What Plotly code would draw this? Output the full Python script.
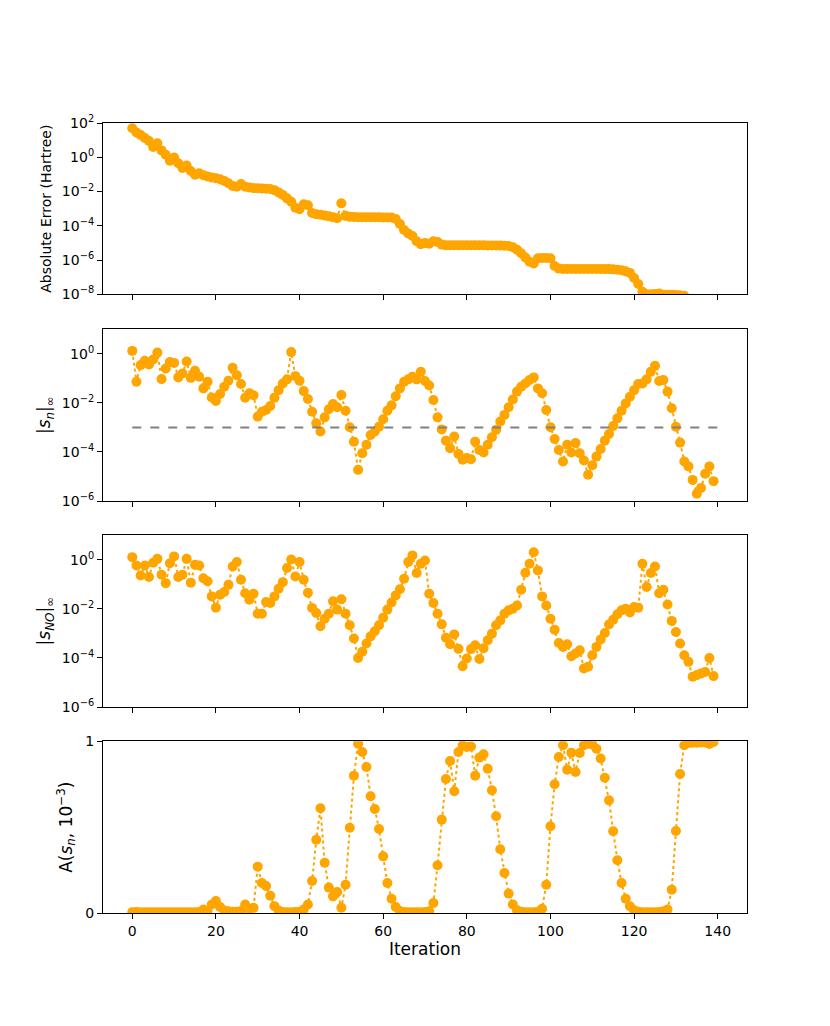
import numpy as np
import plotly.graph_objects as go

iterations = list(range(140))

# Panel 1: absolute error (log10 of Hartree)
abs_err_log10 = [
    1.69, 1.45, 1.30, 1.12, 0.95, 0.60, 0.82, 0.40, 0.15, -0.20,
    -0.02, -0.35, -0.63, -0.48, -0.80, -1.02, -0.93, -1.05, -1.12, -1.18,
    -1.22, -1.28, -1.38, -1.52, -1.68, -1.72, -1.56, -1.72, -1.77, -1.80,
    -1.81, -1.82, -1.84, -1.85, -1.92, -2.05, -2.20, -2.40, -2.60, -2.95,
    -3.03, -2.75, -2.80, -3.25, -3.32, -3.36, -3.40, -3.45, -3.50, -3.56,
    -2.69, -3.42, -3.48, -3.49, -3.50, -3.50, -3.50, -3.50, -3.50, -3.50,
    -3.51, -3.51, -3.52, -3.60, -3.90, -4.25, -4.45, -4.60, -4.90, -5.08,
    -5.00, -5.05, -4.90, -4.95, -5.10, -5.14, -5.14, -5.14, -5.14, -5.14,
    -5.14, -5.14, -5.14, -5.14, -5.14, -5.15, -5.15, -5.15, -5.15, -5.16,
    -5.18, -5.25, -5.40, -5.60, -5.85, -6.10, -6.20, -5.90, -5.88, -5.88,
    -5.90, -6.35, -6.50, -6.52, -6.52, -6.52, -6.52, -6.52, -6.52, -6.52,
    -6.52, -6.52, -6.52, -6.53, -6.53, -6.54, -6.56, -6.60, -6.66, -6.75,
    -7.05, -7.40, -7.85, -8.00, -8.00, -7.98, -7.95, -8.02, -8.03, -8.03,
    -8.04, -8.05, -8.08, -8.40, -8.60, -8.80, -9.00, -9.10, -9.20, -9.30,
]

# Panel 2: |s_n|_inf (log10)
sn_log10 = [
    0.12, -1.14, -0.46, -0.28, -0.43, -0.23, 0.05, -1.03, -0.60, -0.33,
    -0.37, -0.96, -0.80, -0.31, -0.98, -0.69, -0.93, -1.41, -1.14, -1.78,
    -1.92, -1.64, -1.34, -1.10, -0.57, -0.87, -1.23, -1.79, -1.61, -1.69,
    -2.56, -2.36, -2.29, -2.13, -1.79, -1.48, -1.21, -1.04, 0.07, -0.91,
    -1.10, -1.52, -1.84, -2.36, -2.83, -3.17, -2.59, -2.26, -2.05, -2.18,
    -1.68, -2.32, -2.99, -3.58, -4.73, -4.05, -3.71, -3.31, -3.17, -2.97,
    -2.67, -2.32, -2.10, -1.73, -1.41, -1.14, -1.04, -0.93, -1.04, -0.73,
    -1.11, -1.29, -1.88, -2.59, -3.08, -3.54, -3.85, -3.37, -4.08, -4.32,
    -4.25, -4.30, -3.58, -3.92, -4.02, -3.71, -3.40, -3.10, -2.76, -2.49,
    -2.18, -1.86, -1.54, -1.34, -1.21, -1.07, -0.96, -1.41, -1.61, -2.29,
    -2.99, -3.47, -3.92, -4.39, -3.71, -4.02, -3.64, -4.05, -4.35, -4.93,
    -4.54, -4.19, -3.88, -3.54, -3.27, -2.94, -2.63, -2.32, -2.02, -1.75,
    -1.48, -1.23, -1.21, -1.04, -0.73, -0.49, -1.11, -1.07, -1.54, -2.22,
    -2.97, -3.62, -4.39, -4.59, -5.14, -5.70, -5.47, -4.89, -4.59, -5.19,
]
sn_threshold = 1e-3
threshold_x = [0, 140]

# Panel 3: |s_NO|_inf (log10)
sno_log10 = [
    0.11, -0.23, -0.64, -0.23, -0.70, -0.12, 0.04, -0.61, -0.95, -0.14,
    0.14, -0.70, -0.61, 0.04, -0.93, -0.20, -0.23, -0.75, -0.87, -1.49,
    -1.95, -1.42, -1.31, -1.02, -0.27, -0.09, -0.81, -1.36, -1.63, -1.38,
    -2.20, -2.20, -1.72, -1.76, -1.49, -1.18, -0.91, -0.33, 0.01, -0.68,
    -0.09, -0.81, -1.34, -1.96, -2.17, -2.71, -2.40, -2.20, -1.69, -2.03,
    -1.61, -2.20, -2.67, -3.21, -4.00, -3.75, -3.41, -3.12, -2.91, -2.67,
    -2.36, -2.03, -1.74, -1.45, -1.20, -0.77, -0.09, 0.18, -0.54, -0.16,
    -0.03, -1.38, -1.76, -2.20, -2.63, -3.18, -3.44, -3.04, -3.63, -4.34,
    -4.02, -3.64, -3.48, -4.04, -3.60, -3.28, -3.01, -2.67, -2.47, -2.20,
    -2.06, -1.99, -1.86, -1.22, -0.53, -0.16, 0.31, -0.43, -1.49, -1.86,
    -2.40, -2.85, -3.39, -3.55, -3.44, -3.93, -3.82, -3.69, -4.43, -4.36,
    -3.89, -3.55, -3.25, -2.98, -2.64, -2.44, -2.22, -2.06, -1.99, -2.15,
    -1.92, -1.95, -0.16, -1.11, -0.54, -0.27, -1.36, -1.22, -1.82, -2.49,
    -2.94, -3.41, -3.89, -4.16, -4.77, -4.70, -4.63, -4.57, -4.00, -4.74,
]

# Panel 4: A(s_n, 1e-3)
a_values = [
    0.005, 0.006, 0.005, 0.005, 0.005, 0.005, 0.005, 0.005, 0.005, 0.005,
    0.005, 0.005, 0.005, 0.005, 0.005, 0.005, 0.006, 0.020, 0.012, 0.050,
    0.070, 0.035, 0.015, 0.010, 0.008, 0.008, 0.012, 0.050, 0.025, 0.030,
    0.270, 0.175, 0.157, 0.100, 0.040, 0.015, 0.006, 0.005, 0.005, 0.006,
    0.008, 0.020, 0.050, 0.186, 0.427, 0.610, 0.293, 0.148, 0.097, 0.122,
    0.031, 0.165, 0.497, 0.800, 0.986, 0.938, 0.850, 0.680, 0.606, 0.489,
    0.330, 0.175, 0.083, 0.035, 0.012, 0.006, 0.005, 0.005, 0.005, 0.005,
    0.006, 0.010, 0.058, 0.278, 0.544, 0.780, 0.885, 0.709, 0.938, 0.977,
    0.967, 0.970, 0.800, 0.905, 0.924, 0.840, 0.715, 0.563, 0.371, 0.233,
    0.113, 0.050, 0.016, 0.008, 0.005, 0.005, 0.005, 0.008, 0.025, 0.165,
    0.505, 0.750, 0.909, 0.977, 0.835, 0.934, 0.821, 0.932, 0.977, 0.986,
    0.982, 0.957, 0.900, 0.788, 0.656, 0.476, 0.307, 0.175, 0.083, 0.039,
    0.016, 0.008, 0.005, 0.005, 0.005, 0.005, 0.006, 0.010, 0.020, 0.136,
    0.478, 0.810, 0.977, 0.990, 0.992, 0.992, 0.993, 0.993, 0.985, 0.996,
]

x_ticks = [0, 20, 40, 60, 80, 100, 120, 140]

ORANGE = "#FFA500"
FONT = "DejaVu Sans"

def pow_label(p):
    s = str(abs(p))
    return "10<sup>" + ("\u2212" if p < 0 else "") + s + "</sup>"

fig = go.Figure()

def add_series(x, y, xa, ya):
    fig.add_trace(go.Scatter(
        x=x, y=y, mode="lines+markers", xaxis=xa, yaxis=ya,
        line=dict(color=ORANGE, width=2, dash="dot"),
        marker=dict(color=ORANGE, size=10),
        showlegend=False,
    ))

add_series(iterations, list(10 ** np.array(abs_err_log10)), "x", "y")
add_series(iterations, list(10 ** np.array(sn_log10)), "x2", "y2")
fig.add_trace(go.Scatter(
    x=threshold_x, y=[sn_threshold, sn_threshold], mode="lines",
    xaxis="x2", yaxis="y2",
    line=dict(color="#808080", width=2, dash="dash"), showlegend=False,
))
add_series(iterations, list(10 ** np.array(sno_log10)), "x3", "y3")
add_series(iterations, a_values, "x4", "y4")

# page body adds an 8 px offset; layout measured in screen pixels
OFF = 8
W, H = 830, 1026
top, bottom = 122.7, 912.7
left, right = 103.3, 747.3
span = bottom - top

def dom(t, b):
    return [(bottom - b) / span, (bottom - t) / span]

panels = [(122.7, 294.0), (329.0, 500.7), (535.0, 706.7), (741.0, 912.7)]

axis_common = dict(
    showline=True, linecolor="black", linewidth=1.1, mirror=True,
    ticks="outside", ticklen=5, tickwidth=1.1, tickcolor="black",
    showgrid=False, zeroline=False,
    tickfont=dict(family=FONT, size=14, color="black"),
)

layout = dict(
    width=W, height=H,
    margin=dict(l=left - OFF, r=W - (right - OFF), t=top - OFF, b=H - (bottom - OFF)),
    paper_bgcolor="white", plot_bgcolor="white",
    font=dict(family=FONT, color="black"),
)

for i, (t, b) in enumerate(panels):
    n = "" if i == 0 else str(i + 1)
    xa = dict(axis_common, domain=[0, 1], range=[-7, 147],
              tickvals=x_ticks, anchor="y" + n)
    if i < 3:
        xa["showticklabels"] = False
        xa["matches"] = "x4"
    else:
        xa["title"] = dict(text="Iteration", font=dict(family=FONT, size=17), standoff=4)
    layout["xaxis" + n] = xa

layout["yaxis"] = dict(
    axis_common, domain=dom(*panels[0]), anchor="x", type="log", range=[-8, 2],
    tickvals=[10.0 ** p for p in [2, 0, -2, -4, -6, -8]],
    ticktext=[pow_label(p) for p in [2, 0, -2, -4, -6, -8]],
    title=dict(text="Absolute Error (Hartree)", font=dict(family=FONT, size=14), standoff=6),
)
layout["yaxis2"] = dict(
    axis_common, domain=dom(*panels[1]), anchor="x2", type="log", range=[-6, 1],
    tickvals=[10.0 ** p for p in [0, -2, -4, -6]],
    ticktext=[pow_label(p) for p in [0, -2, -4, -6]],
    title=dict(text="|<i>s</i><sub><i>n</i></sub>|<sub>\u221e</sub>", font=dict(family=FONT, size=17), standoff=6),
)
layout["yaxis3"] = dict(
    axis_common, domain=dom(*panels[2]), anchor="x3", type="log", range=[-6, 1],
    tickvals=[10.0 ** p for p in [0, -2, -4, -6]],
    ticktext=[pow_label(p) for p in [0, -2, -4, -6]],
    title=dict(text="|<i>s</i><sub><i>NO</i></sub>|<sub>\u221e</sub>", font=dict(family=FONT, size=17), standoff=6),
)
layout["yaxis4"] = dict(
    axis_common, domain=dom(*panels[3]), anchor="x4", range=[0, 1],
    tickvals=[0, 1], ticktext=["0", "1"],
    title=dict(text="A(<i>s</i><sub><i>n</i></sub>, 10<sup>\u22123</sup>)", font=dict(family=FONT, size=17), standoff=8),
)

fig.update_layout(**layout)
fig.write_html("out.html")
